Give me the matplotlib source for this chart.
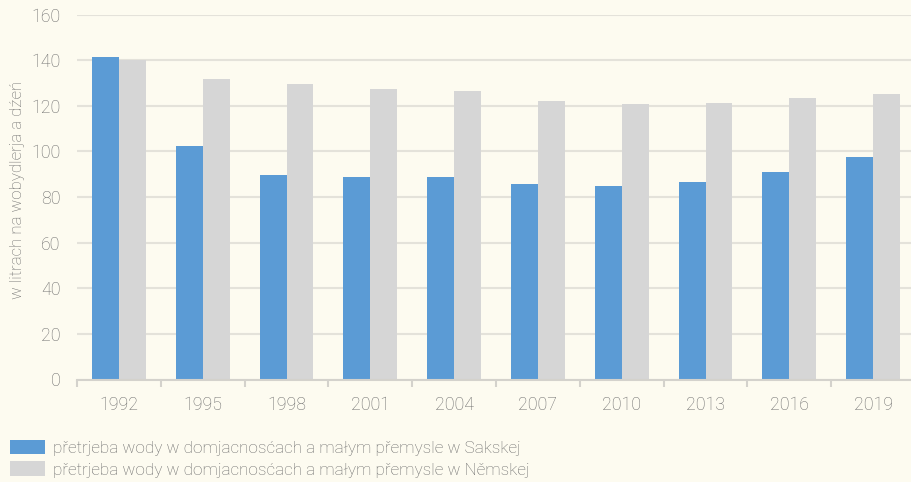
import matplotlib.pyplot as plt
import numpy as np
from matplotlib.patches import Patch

# data
years = ['1992', '1995', '1998', '2001', '2004', '2007', '2010', '2013', '2016', '2019']
saxony = [141.6, 102.5, 89.8, 88.7, 88.7, 85.6, 84.7, 86.8, 90.9, 97.6]
germany = [140.1, 131.9, 129.5, 127.4, 126.4, 122.1, 120.7, 121.3, 123.3, 125.2]
yticks = [0, 20, 40, 60, 80, 100, 120, 140, 160]
ylabel = 'w litrach na wobydlerja a dźeń'
labels = ['přetrjeba wody w domjacnosćach a małym přemysle w Sakskej',
          'přetrjeba wody w domjacnosćach a małym přemysle w Němskej']

blue = '#5b9bd5'
grey = '#d6d6d6'
bg = '#fdfbf0'
txt = '#6c6c6c'
gridc = '#e4e2da'

plt.rcParams['font.family'] = ['Roboto', 'DejaVu Sans']
plt.rcParams['font.weight'] = 'light'

fig = plt.figure(figsize=(9.11, 4.82), dpi=100, facecolor=bg)
ax = fig.add_axes([77 / 911, 1 - 379.5 / 482, 838 / 911, (379.5 - 14.7) / 482])
ax.set_facecolor(bg)

x = np.arange(len(years))
w = 0.32
ax.bar(x - w / 2, saxony, w, color=blue, zorder=3)
ax.bar(x + w / 2, germany, w, color=grey, zorder=3)

ax.set_xlim(-0.5, len(years) - 0.5)
ax.set_ylim(0, 160)
ax.set_yticks(yticks)
ax.set_yticklabels([str(v) for v in yticks])
ax.yaxis.grid(True, color=gridc, lw=1.5, zorder=0)
ax.tick_params(axis='y', length=0, pad=12, labelsize=12.8, labelcolor=txt)

# category labels centered, tick marks on boundaries
ax.set_xticks(x)
ax.set_xticklabels(years)
ax.set_xticks(np.arange(len(years) + 1) - 0.5, minor=True)
ax.tick_params(axis='x', which='major', length=0, pad=12, labelsize=12.8, labelcolor=txt)
ax.tick_params(axis='x', which='minor', length=5, width=1.5, color='#d4d2cc')

for s in ['top', 'right', 'left']:
    ax.spines[s].set_visible(False)
ax.spines['bottom'].set_color('#d4d2cc')
ax.spines['bottom'].set_linewidth(1.5)
ax.spines['bottom'].set_zorder(4)

fig.text(18 / 911, 1 - 190 / 482, ylabel, rotation=90, ha='center', va='center',
         fontsize=12.2, color=txt)

handles = [Patch(facecolor=blue), Patch(facecolor=grey)]
fig.legend(handles, labels, loc='lower left', bbox_to_anchor=(0.0, -0.012),
           frameon=False, fontsize=12.3, labelcolor=txt, handlelength=2.05,
           handleheight=0.95, handletextpad=0.45, labelspacing=0.32,
           borderaxespad=0.2)

fig.savefig('out.png', dpi=100, facecolor=bg)
